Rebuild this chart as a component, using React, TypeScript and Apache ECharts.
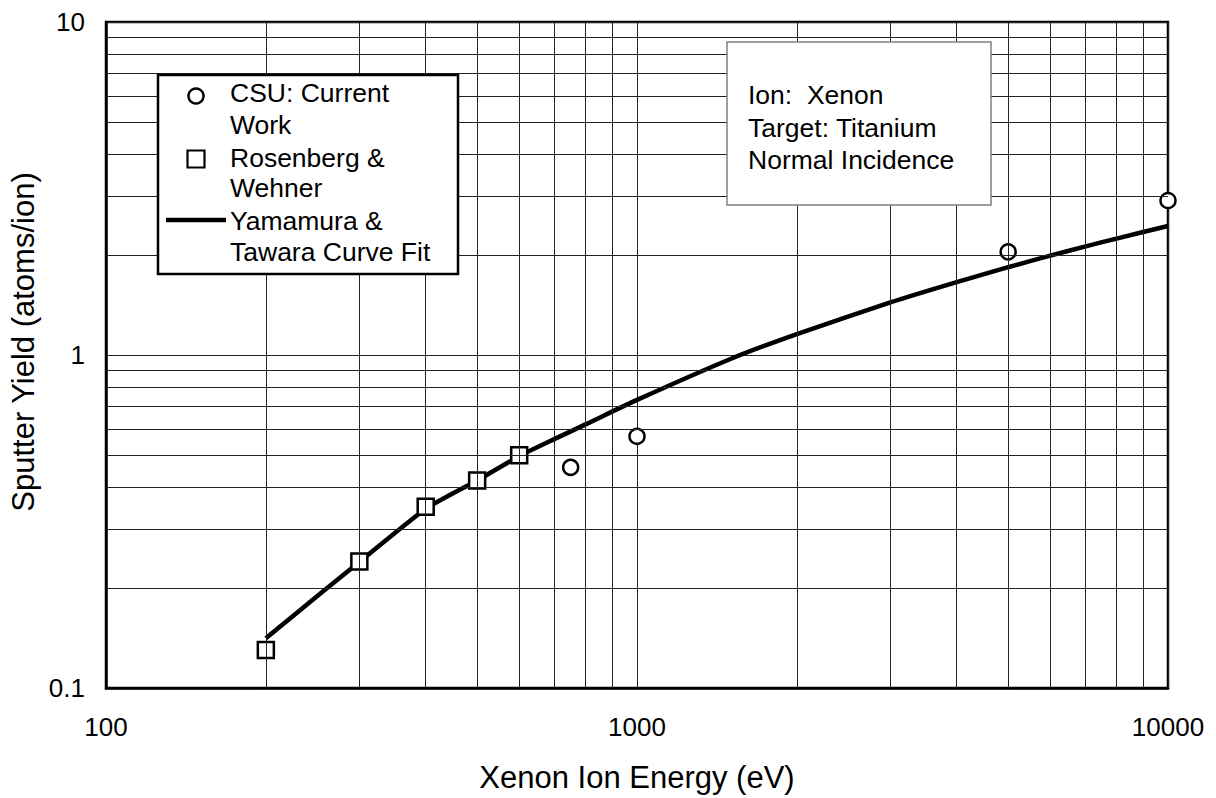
import React, { useEffect, useRef } from "react";
import * as echarts from "echarts";

// ---- data ----
const csuEnergy = [750, 1000, 5000, 10000];
const csuYield = [0.46, 0.57, 2.04, 2.91];

const rwEnergy = [200, 300, 400, 500, 600];
const rwYield = [0.13, 0.24, 0.35, 0.42, 0.5];

const fitEnergy = [200, 250, 300, 400, 500, 600, 700, 800, 1000, 1500, 2000, 3000, 4000, 5000, 6000, 7000, 8000, 10000];
const fitYield = [0.141, 0.189, 0.239, 0.345, 0.42, 0.497, 0.56, 0.619, 0.733, 0.973, 1.156, 1.439, 1.656, 1.835, 1.987, 2.12, 2.237, 2.44];

const xMinor = [200, 300, 400, 500, 600, 700, 800, 900, 2000, 3000, 4000, 5000, 6000, 7000, 8000, 9000];
const yMinor = [0.2, 0.3, 0.4, 0.5, 0.6, 0.7, 0.8, 0.9, 2, 3, 4, 5, 6, 7, 8, 9];

const legendLines = ["CSU: Current", "Work", "Rosenberg &", "Wehner", "Yamamura &", "Tawara Curve Fit"];
const infoLines = ["Ion:  Xenon", "Target: Titanium", "Normal Incidence"];

const FONT = '"Liberation Sans", Arial, Helvetica, sans-serif';

const zip = (a: number[], b: number[]) => a.map((v, i) => [v, b[i]]);
const fmt = (v: number) => String(+Number(v).toPrecision(6));

function buildOption() {
  const gridLine = { color: "#222", width: 1, type: "solid" as const };
  const legendY = [93, 125, 158, 188, 221, 252];
  const infoY = [95, 128, 160];
  return {
    animation: false,
    backgroundColor: "#fff",
    grid: {
      left: 106,
      right: 48,
      top: 22,
      bottom: 110,
      show: true,
      borderColor: "#000",
      borderWidth: 2.5,
      containLabel: false,
    },
    xAxis: {
      type: "log",
      logBase: 10,
      min: 100,
      max: 10000,
      name: "Xenon Ion Energy (eV)",
      nameLocation: "middle",
      nameGap: 74,
      nameTextStyle: { fontSize: 31, fontFamily: FONT, color: "#000" },
      axisLine: { show: true, lineStyle: { color: "#000", width: 2.5 } },
      axisTick: { show: false },
      axisLabel: { fontSize: 26, fontFamily: FONT, color: "#000", margin: 26, formatter: fmt },
      splitLine: { show: true, lineStyle: gridLine },
    },
    yAxis: {
      type: "log",
      logBase: 10,
      min: 0.1,
      max: 10,
      axisLine: { show: true, lineStyle: { color: "#000", width: 2.5 } },
      axisTick: { show: false },
      axisLabel: { fontSize: 26, fontFamily: FONT, color: "#000", margin: 21, formatter: fmt },
      splitLine: { show: true, lineStyle: gridLine },
    },
    series: [
      {
        name: "grid",
        type: "line",
        data: [],
        z: 1,
        silent: true,
        markLine: {
          silent: true,
          symbol: ["none", "none"],
          label: { show: false },
          lineStyle: gridLine,
          emphasis: { disabled: true },
          data: [
            ...xMinor.map((v) => ({ xAxis: v })),
            ...yMinor.map((v) => ({ yAxis: v })),
          ],
        },
      },
      {
        name: "Yamamura & Tawara Curve Fit",
        type: "line",
        data: zip(fitEnergy, fitYield),
        smooth: 0.2,
        showSymbol: false,
        symbol: "none",
        z: 3,
        lineStyle: { color: "#000", width: 4.5 },
      },
      {
        name: "Rosenberg & Wehner",
        type: "scatter",
        data: zip(rwEnergy, rwYield),
        symbol: "rect",
        symbolSize: 16,
        z: 4,
        itemStyle: { color: "#fff", borderColor: "#000", borderWidth: 2.5, opacity: 1 },
      },
      {
        name: "CSU: Current Work",
        type: "scatter",
        data: zip(csuEnergy, csuYield),
        symbol: "circle",
        symbolSize: 15,
        z: 4,
        itemStyle: { color: "#fff", borderColor: "#000", borderWidth: 2.5, opacity: 1 },
      },
    ],
    graphic: [
      {
        type: "text",
        z: 100,
        x: 23,
        y: 342,
        rotation: Math.PI / 2,
        style: {
          text: "Sputter Yield (atoms/ion)",
          fontSize: 31,
          fontFamily: FONT,
          fill: "#000",
          align: "center",
          verticalAlign: "middle",
        },
      },
      {
        type: "rect",
        z: 100,
        shape: { x: 158, y: 75, width: 300, height: 199 },
        style: { fill: "#fff", stroke: "#000", lineWidth: 2.5 },
      },
      {
        type: "circle",
        z: 101,
        shape: { cx: 196, cy: 96, r: 7.5 },
        style: { fill: "#fff", stroke: "#000", lineWidth: 2.5 },
      },
      {
        type: "rect",
        z: 101,
        shape: { x: 187.5, y: 150.5, width: 17, height: 17 },
        style: { fill: "#fff", stroke: "#000", lineWidth: 2.2 },
      },
      {
        type: "line",
        z: 101,
        shape: { x1: 166, y1: 220, x2: 226, y2: 220 },
        style: { stroke: "#000", lineWidth: 4.5 },
      },
      ...legendLines.map((t, i) => ({
        type: "text",
        z: 101,
        x: 230,
        y: legendY[i],
        style: { text: t, fontSize: 26.5, fontFamily: FONT, fill: "#000", align: "left", verticalAlign: "middle" },
      })),
      {
        type: "rect",
        z: 100,
        shape: { x: 727, y: 42, width: 264, height: 163 },
        style: { fill: "#fff", stroke: "#808080", lineWidth: 1.5 },
      },
      ...infoLines.map((t, i) => ({
        type: "text",
        z: 101,
        x: 748,
        y: infoY[i],
        style: { text: t, fontSize: 26.5, fontFamily: FONT, fill: "#000", align: "left", verticalAlign: "middle" },
      })),
    ],
  };
}

export default function App() {
  const ref = useRef<HTMLDivElement>(null);
  useEffect(() => {
    document.body.style.margin = "0";
    const chart = echarts.init(ref.current!, undefined, { renderer: "svg" });
    chart.setOption(buildOption() as any);
    return () => chart.dispose();
  }, []);
  return <div ref={ref} style={{ width: 1216, height: 798 }} />;
}
